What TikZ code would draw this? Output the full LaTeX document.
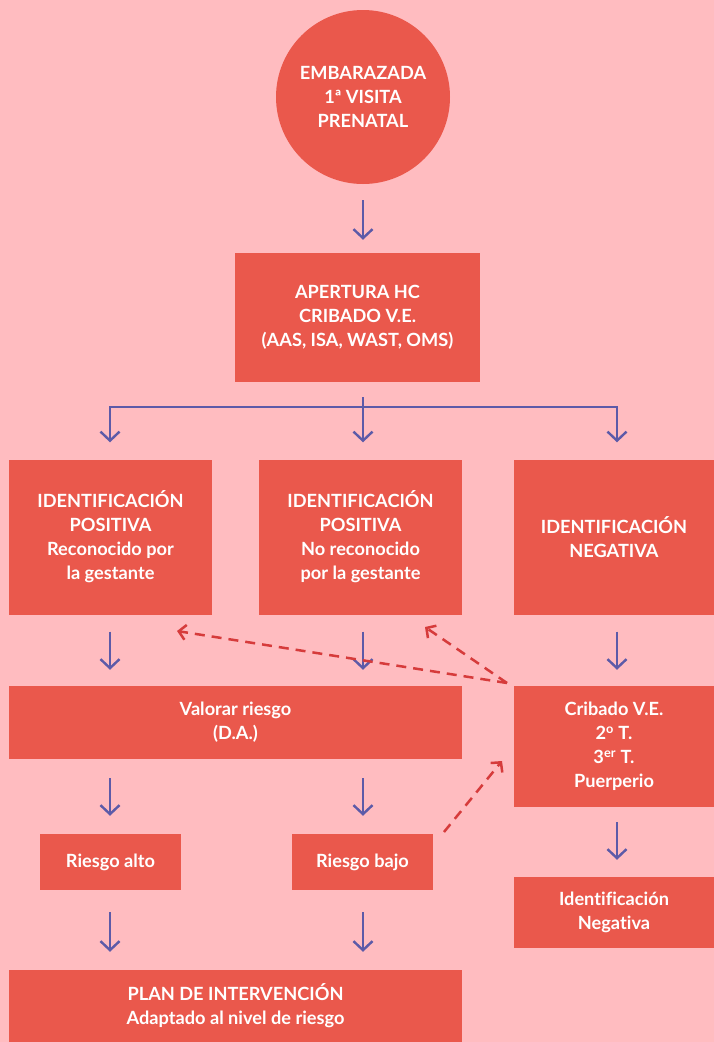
\documentclass[tikz,border=0pt]{standalone}
\usepackage{fontspec}
\setmainfont{Lato}[Ligatures=NoCommon]
\usetikzlibrary{arrows.meta,calc}
\definecolor{bgc}{RGB}{255,188,192}
\definecolor{boxc}{RGB}{234,88,76}
\definecolor{arrc}{RGB}{92,90,168}
\definecolor{dashc}{RGB}{214,59,59}
\begin{document}
\begin{tikzpicture}[x=1pt,y=-1pt,
  box/.style={rectangle,fill=boxc,text=white,align=center,inner sep=0pt,
    font=\bfseries\fontsize{18.2}{24}\selectfont},
  circbox/.style={circle,fill=boxc,text=white,align=center,inner sep=0pt,
    font=\bfseries\fontsize{18.2}{24}\selectfont},
  arr/.style={draw=arrc,line width=2.4pt,-{Straight Barb[length=9pt,width=19pt]}},
  arrboth/.style={draw=arrc,line width=2.4pt,{Straight Barb[length=9pt,width=19pt]}-{Straight Barb[length=9pt,width=19pt]}},
  pline/.style={draw=arrc,line width=2.4pt},
  darr/.style={draw=dashc,line width=2.5pt,dash pattern=on 10pt off 7pt,-{Straight Barb[length=7pt,width=15pt]}}
]
\fill[bgc] (0,0) rectangle (714,1042);
\useasboundingbox (0,0) rectangle (714,1042);

\coordinate (c1) at (110,0);
\coordinate (c2) at (363,0);
\coordinate (c3) at (617,0);

\node[circbox,minimum size=174pt] (circ) at (363,97) {EMBARAZADA\\1ª VISITA\\PRENATAL};
\node[box,minimum width=245pt,minimum height=129pt] (ap) at (357.5,317.5) {APERTURA HC\\CRIBADO V.E.\\(AAS, ISA, WAST, OMS)};
\node[box,minimum width=203pt,minimum height=155pt] (id1) at (110.5,537) {IDENTIFICACIÓN\\POSITIVA\\Reconocido por\\la gestante};
\node[box,minimum width=203pt,minimum height=155pt] (id2) at (360.5,537) {IDENTIFICACIÓN\\POSITIVA\\No reconocido\\por la gestante};
\node[box,minimum width=200pt,minimum height=155pt] (id3) at (614,537) {IDENTIFICACIÓN\\NEGATIVA};
\node[box,minimum width=453pt,minimum height=73pt] (val) at (235.5,722.5) {Valorar riesgo\\(D.A.)};
\node[box,minimum width=200pt,minimum height=121pt] (crib) at (614,746.5) {Cribado V.E.\\2\textsuperscript{o} T.\\3\textsuperscript{er} T.\\Puerperio};
\node[box,minimum width=141pt,minimum height=56pt] (ra) at (110.5,862) {Riesgo alto};
\node[box,minimum width=141pt,minimum height=56pt] (rb) at (362.5,862) {Riesgo bajo};
\node[box,minimum width=200pt,minimum height=71pt] (neg) at (614,912.5) {Identificación\\Negativa};
\node[box,minimum width=453pt,minimum height=72pt] (plan) at (235.5,1006) {PLAN DE INTERVENCIÓN\\Adaptado al nivel de riesgo};

% circle -> apertura
\draw[arr,shorten <=16pt,shorten >=13pt] (c2 |- circ.south) -- (c2 |- ap.north);
% tree
\coordinate (br) at (363,407);
\draw[pline] ($(c2 |- ap.south)+(0,-15pt)$) -- (br);
\draw[arrboth,shorten <=17pt,shorten >=17pt] (c1 |- id1.north) |- (br) -| (c3 |- id3.north);
\draw[arr,shorten >=17pt] (br) -- (c2 |- id2.north);
% row -> second row
\draw[arr,shorten <=17pt,shorten >=16pt] (c1 |- id1.south) -- (c1 |- val.north);
\draw[arr,shorten <=17pt,shorten >=16pt] (c2 |- id2.south) -- (c2 |- val.north);
\draw[arr,shorten <=17pt,shorten >=16pt] (c3 |- id3.south) -- (c3 |- crib.north);
% valorar -> riesgo
\draw[arr,shorten <=19pt,shorten >=18pt] (c1 |- val.south) -- (c1 |- ra.north);
\draw[arr,shorten <=19pt,shorten >=18pt] (c2 |- val.south) -- (c2 |- rb.north);
\draw[arr,shorten <=15pt,shorten >=17pt] (c3 |- crib.south) -- (c3 |- neg.north);
% riesgo -> plan
\draw[arr,shorten <=22pt,shorten >=18pt] (c1 |- ra.south) -- (c1 |- plan.north);
\draw[arr,shorten <=22pt,shorten >=18pt] (c2 |- rb.south) -- (c2 |- plan.north);

% dashed feedback
\coordinate (d0) at (507,683);
\coordinate (t1) at (177,631);
\coordinate (t2) at (425,627);
\coordinate (d3) at (444,832);
\coordinate (t3) at (502,761);
\draw[darr] (d0) -- (t1);
\draw[darr] (d0) -- (t2);
\draw[darr] (d3) -- (t3);
\end{tikzpicture}
\end{document}
